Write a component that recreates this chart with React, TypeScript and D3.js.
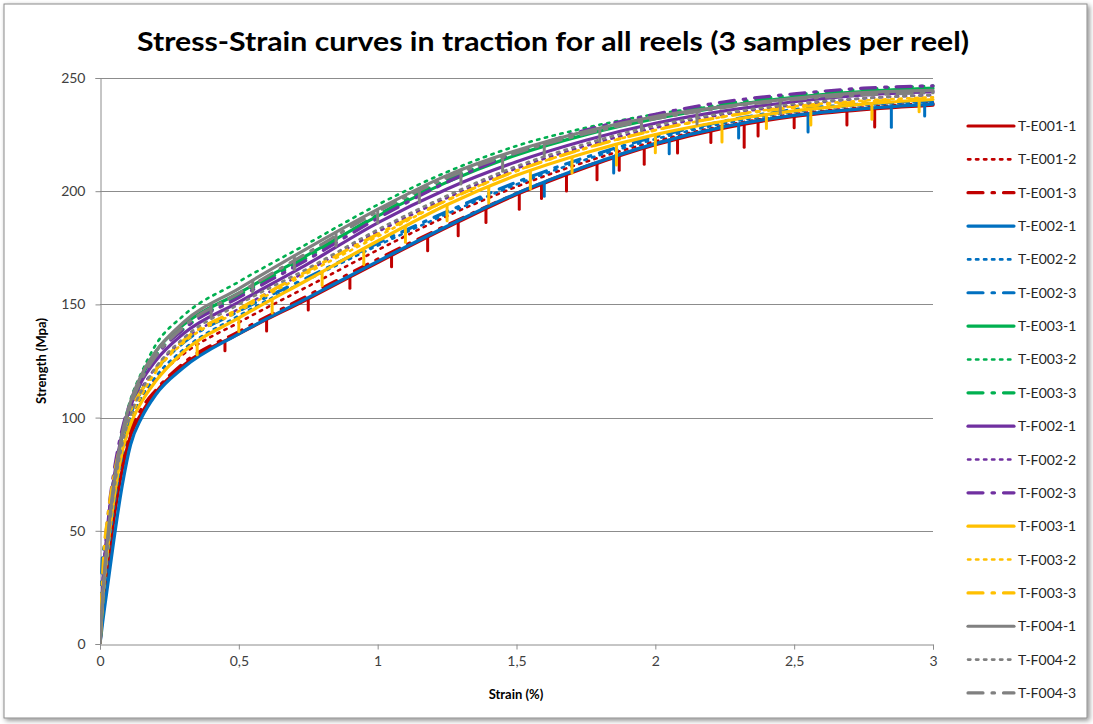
import { useEffect, useRef } from 'react'
import * as d3 from 'd3'

// Strain grid shared by every sample (%)
const STRAIN = [0, 0.01, 0.03, 0.05, 0.08, 0.11, 0.15, 0.2, 0.3, 0.5, 0.75, 1, 1.25, 1.5, 1.75, 2, 2.25, 2.5, 2.75, 3]

// Strength values (MPa), one array per sample
const E001_1 = [0, 14, 35, 55, 77, 92, 102, 111, 123, 137, 152.5, 168.5, 184, 198.5, 210.5, 220.5, 228, 233, 236, 238]
const E001_2 = [0, 18, 42, 62, 84, 99, 109, 117, 128, 142, 158, 174, 189, 202, 213, 222, 229, 234, 237, 239]
const E001_3 = [0, 16, 38, 58, 79, 94, 104, 112, 124, 138, 154, 170, 185, 199, 211, 221, 228.5, 233.5, 236.5, 238.5]
const E002_1 = [0, 10, 28, 46, 70, 88, 100, 110, 122, 137, 153, 169, 184.5, 199, 211, 221, 228.5, 233.5, 236.5, 238.5]
const E002_2 = [0, 15, 40, 60, 83, 98, 109, 118, 130, 145, 161, 176, 190, 203, 214, 223, 230, 235, 238, 239.5]
const E002_3 = [0, 40, 48, 63, 86, 101, 112, 121, 133, 147, 162, 177, 191, 204, 215, 224, 231, 236, 238.5, 240]
const E003_1 = [0, 22, 50, 70, 92, 106, 118, 129, 141, 155, 172, 189, 204, 216, 225, 232, 237.5, 241.5, 244, 245.5]
const E003_2 = [0, 24, 54, 74, 94, 108, 120, 132, 145, 160, 177, 194, 208.5, 220, 228, 234, 238, 241, 243, 244]
const E003_3 = [0, 20, 48, 68, 90, 104, 116, 127, 139, 154, 171, 189.5, 205, 217, 226, 233, 238.5, 242.5, 245, 246.5]
const F002_1 = [0, 26, 55, 73, 93, 105, 116, 125, 137, 151, 168, 186, 201, 213, 222.5, 230, 235.5, 239.5, 242.5, 244]
const F002_2 = [0, 28, 56, 73, 92, 103, 113, 122, 134, 148, 165, 182, 197, 210, 220, 228, 234, 238, 241, 242.5]
const F002_3 = [0, 30, 58, 76, 95, 107, 118, 127, 139, 153, 170, 188, 204, 217, 227, 234, 239.5, 243, 245.5, 246.5]
const F003_1 = [0, 20, 45, 64, 85, 97, 107, 116, 129, 144, 161, 178, 194, 207, 217, 225, 231, 235.5, 238.5, 240.5]
const F003_2 = [0, 18, 44, 65, 87, 100, 110, 120, 133, 147, 164, 180, 196, 209, 219, 227, 233, 237.5, 240, 241.5]
const F003_3 = [0, 32, 58, 74, 91, 103, 112, 121, 134, 148, 165, 181, 196, 209, 219, 227, 233, 237, 239.5, 241]
const F004_1 = [0, 22, 50, 71, 93, 107, 119, 129, 142, 157, 175, 192, 207, 218, 226.5, 233, 237.5, 241, 243.5, 244.5]
const F004_2 = [0, 18, 46, 67, 88, 101, 112, 122, 135, 150, 166, 183, 198, 211, 221, 229, 234.5, 238.5, 241, 242.5]
const F004_3 = [0, 20, 48, 69, 91, 105, 117, 127, 140, 155, 173, 191, 206, 217, 225.5, 232, 237, 240.5, 242.5, 243.5]

// Measurement glitches: [strain %, drop below the curve in MPa]
const E001_1_DROPS = [[0.45, 4], [0.6, 5], [0.75, 5], [0.9, 5], [1.05, 5], [1.18, 6], [1.29, 6], [1.39, 6], [1.51, 7], [1.59, 6], [1.68, 7], [1.79, 7], [1.87, 6], [1.96, 7], [2.08, 6], [2.2, 5], [2.32, 10], [2.37, 6], [2.5, 5], [2.69, 6], [2.79, 8]]
const F003_1_DROPS = [[0.35, 5], [0.5, 6], [0.62, 6], [0.8, 6], [0.95, 7], [1.1, 7], [1.25, 7], [1.4, 7], [1.55, 8], [1.7, 7], [1.86, 9], [2.0, 8], [2.24, 9], [2.4, 6], [2.56, 7], [2.78, 7], [2.95, 5]]
const F004_1_DROPS = [[0.4, 5], [0.55, 5], [0.7, 6], [0.85, 6], [1.0, 6], [1.15, 6], [1.3, 6], [1.45, 7], [1.6, 6], [1.8, 6], [1.95, 5], [2.15, 6], [2.45, 6]]
const E002_1_DROPS = [[1.6, 6], [1.85, 7], [2.05, 6], [2.3, 6], [2.55, 8], [2.85, 9], [2.97, 5]]

const SERIES_NAMES = [
  'T-E001-1', 'T-E001-2', 'T-E001-3',
  'T-E002-1', 'T-E002-2', 'T-E002-3',
  'T-E003-1', 'T-E003-2', 'T-E003-3',
  'T-F002-1', 'T-F002-2', 'T-F002-3',
  'T-F003-1', 'T-F003-2', 'T-F003-3',
  'T-F004-1', 'T-F004-2', 'T-F004-3',
]
const SERIES_VALUES = [
  E001_1, E001_2, E001_3, E002_1, E002_2, E002_3, E003_1, E003_2, E003_3,
  F002_1, F002_2, F002_3, F003_1, F003_2, F003_3, F004_1, F004_2, F004_3,
]
const SERIES_DROPS: Record<number, number[][]> = { 0: E001_1_DROPS, 3: E002_1_DROPS, 12: F003_1_DROPS, 15: F004_1_DROPS }

const REEL_COLORS = ['#C00000', '#0070C0', '#00B050', '#7030A0', '#FFC000', '#808080']
const DASH = [null, '2.4 5.6', '15 9 2.5 9']
const WIDTH_BY_STYLE = [3.2, 2.6, 3.2]

const X_TICKS = [0, 0.5, 1, 1.5, 2, 2.5, 3]
const Y_TICKS = [0, 50, 100, 150, 200, 250]

const W = 1093
const H = 724
const PLOT = { left: 100, right: 933, top: 78, bottom: 644 }
const FONT = 'Lato, "Open Sans", sans-serif'

export default function App() {
  const svgRef = useRef<SVGSVGElement | null>(null)

  useEffect(() => {
    if (!svgRef.current) return
    const svg = d3.select(svgRef.current)
    svg.selectAll('*').remove()

    const x = d3.scaleLinear().domain([0, 3]).range([PLOT.left, PLOT.right])
    const y = d3.scaleLinear().domain([0, 250]).range([PLOT.bottom, PLOT.top])

    // ── Frame with shadow ────────────────────────────────────────────────────
    const defs = svg.append('defs')
    const f = defs.append('filter').attr('id', 'shadow')
      .attr('x', '-5%').attr('y', '-5%').attr('width', '110%').attr('height', '110%')
    f.append('feDropShadow').attr('dx', 2).attr('dy', 2).attr('stdDeviation', 2.5)
      .attr('flood-color', '#000').attr('flood-opacity', 0.45)
    defs.append('clipPath').attr('id', 'plotclip').append('rect')
      .attr('x', PLOT.left).attr('y', PLOT.top - 10)
      .attr('width', PLOT.right - PLOT.left + 2).attr('height', PLOT.bottom - PLOT.top + 10)

    svg.append('rect').attr('width', W).attr('height', H).attr('fill', '#fff')
    svg.append('rect')
      .attr('x', 4).attr('y', 4).attr('width', W - 10).attr('height', H - 10)
      .attr('fill', '#fff').attr('stroke', '#8c8c8c').attr('stroke-width', 1)
      .attr('filter', 'url(#shadow)')

    // ── Title ────────────────────────────────────────────────────────────────
    svg.append('text')
      .attr('x', 553).attr('y', 51)
      .attr('text-anchor', 'middle')
      .attr('font-family', FONT).attr('font-weight', 700).attr('font-size', 27)
      .attr('textLength', 832).attr('lengthAdjust', 'spacingAndGlyphs')
      .attr('fill', '#000')
      .text('Stress-Strain curves in traction for all reels (3 samples per reel)')

    // ── Grid + axes ──────────────────────────────────────────────────────────
    const grid = svg.append('g')
    Y_TICKS.filter((t) => t > 0).forEach((t) => {
      grid.append('line')
        .attr('x1', PLOT.left).attr('x2', PLOT.right)
        .attr('y1', Math.round(y(t)) + 0.5).attr('y2', Math.round(y(t)) + 0.5)
        .attr('stroke', '#8c8c8c').attr('stroke-width', 1)
    })

    const yAxis = svg.append('g').attr('transform', `translate(${PLOT.left + 0.5},0)`)
      .call(d3.axisLeft(y).tickValues(Y_TICKS).tickSize(5).tickPadding(10).tickFormat((d) => String(d)))
    yAxis.select('.domain').attr('stroke', '#8c8c8c')
    yAxis.selectAll('line').attr('stroke', '#8c8c8c')
    yAxis.selectAll('text').attr('font-family', FONT).attr('font-size', 14).attr('fill', '#404040')

    const xAxis = svg.append('g').attr('transform', `translate(0,${PLOT.bottom + 0.5})`)
      .call(d3.axisBottom(x).tickValues(X_TICKS).tickSize(5).tickPadding(7)
        .tickFormat((d) => String(d).replace('.', ',')))
    xAxis.select('.domain').attr('stroke', '#8c8c8c')
    xAxis.selectAll('line').attr('stroke', '#8c8c8c')
    xAxis.selectAll('text').attr('font-family', FONT).attr('font-size', 14).attr('fill', '#404040')

    // ── Axis titles ──────────────────────────────────────────────────────────
    svg.append('text')
      .attr('transform', `translate(46,${(PLOT.top + PLOT.bottom) / 2}) rotate(-90)`)
      .attr('text-anchor', 'middle')
      .attr('font-family', FONT).attr('font-weight', 700).attr('font-size', 13)
      .text('Strength (Mpa)')
    svg.append('text')
      .attr('x', 516).attr('y', 699)
      .attr('text-anchor', 'middle')
      .attr('font-family', FONT).attr('font-weight', 700).attr('font-size', 13)
      .text('Strain (%)')

    // ── Curves ───────────────────────────────────────────────────────────────
    const line = d3.line<number>()
      .x((_, i) => x(STRAIN[i]))
      .y((d) => y(d))
      .curve(d3.curveMonotoneX)

    const curves = svg.append('g').attr('clip-path', 'url(#plotclip)')
    SERIES_VALUES.forEach((vals, i) => {
      const style = i % 3
      const color = REEL_COLORS[Math.floor(i / 3)]
      curves.append('path')
        .datum(vals)
        .attr('fill', 'none')
        .attr('stroke', color)
        .attr('stroke-width', WIDTH_BY_STYLE[style])
        .attr('stroke-linecap', 'round')
        .attr('stroke-dasharray', DASH[style])
        .attr('d', line)

      const drops = SERIES_DROPS[i]
      if (drops) {
        const onCurve = d3.scaleLinear().domain(STRAIN).range(vals)
        curves.selectAll(null)
          .data(drops)
          .join('line')
          .attr('x1', (d) => x(d[0])).attr('x2', (d) => x(d[0]))
          .attr('y1', (d) => y(onCurve(d[0])))
          .attr('y2', (d) => y(onCurve(d[0]) - d[1]))
          .attr('stroke', color)
          .attr('stroke-width', 3)
          .attr('stroke-linecap', 'round')
      }
    })

    // ── Legend ───────────────────────────────────────────────────────────────
    const legend = svg.append('g')
    SERIES_NAMES.forEach((name, i) => {
      const ly = 126 + i * 33.35
      const style = i % 3
      legend.append('line')
        .attr('x1', 968).attr('x2', 1014).attr('y1', ly).attr('y2', ly)
        .attr('stroke', REEL_COLORS[Math.floor(i / 3)])
        .attr('stroke-width', WIDTH_BY_STYLE[style])
        .attr('stroke-linecap', 'round')
        .attr('stroke-dasharray', DASH[style])
      legend.append('text')
        .attr('x', 1018).attr('y', ly + 5)
        .attr('font-family', FONT).attr('font-size', 14).attr('fill', '#262626')
        .text(name)
    })
  }, [])

  return (
    <svg ref={svgRef} width={W} height={H}
      style={{ position: 'absolute', left: 0, top: 0, display: 'block' }} />
  )
}
